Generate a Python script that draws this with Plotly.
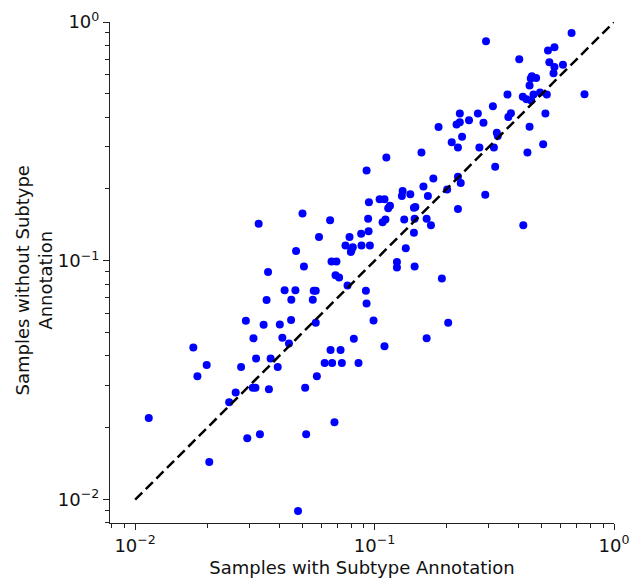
import plotly.graph_objects as go

# Fraction of samples with subtype annotation (x) vs without (y)
with_subtype = [
    0.665, 0.292, 0.564, 0.530, 0.402, 0.537, 0.612, 0.564, 0.559, 0.454,
    0.473, 0.449, 0.444, 0.359, 0.416, 0.461, 0.491, 0.524, 0.431, 0.451,
    0.753, 0.312, 0.227, 0.270, 0.371, 0.362, 0.517, 0.248, 0.220, 0.227,
    0.285, 0.444, 0.324, 0.327, 0.232, 0.210, 0.223, 0.274, 0.315, 0.506,
    0.435, 0.319, 0.223, 0.229, 0.185, 0.157, 0.112, 0.0926, 0.176, 0.160,
    0.131, 0.141, 0.130, 0.167, 0.201, 0.0947, 0.105, 0.110, 0.148, 0.146,
    0.116, 0.114, 0.0500, 0.0652, 0.0940, 0.111, 0.108, 0.133, 0.147, 0.165,
    0.172, 0.146, 0.0944, 0.0879, 0.0586, 0.0786, 0.0756, 0.0811, 0.0801, 0.0796,
    0.0882, 0.0956, 0.0470, 0.135, 0.0661, 0.0693, 0.124, 0.124, 0.147, 0.0507,
    0.0687, 0.0711, 0.191, 0.0771, 0.0421, 0.0467, 0.0557, 0.0568, 0.0920, 0.0449,
    0.0552, 0.0926, 0.0448, 0.0568, 0.0990, 0.203, 0.0402, 0.0412, 0.0819, 0.165,
    0.0439, 0.110, 0.0655, 0.0721, 0.290, 0.223, 0.418, 0.0328, 0.0359, 0.0354,
    0.0290, 0.0344, 0.0312, 0.0175, 0.0320, 0.0368, 0.0394, 0.0199, 0.0182, 0.0277,
    0.0263, 0.0247, 0.0310, 0.0318, 0.0362, 0.0114, 0.0294, 0.0332, 0.0204, 0.0619,
    0.0665, 0.0730, 0.0857, 0.0574, 0.0513, 0.0680, 0.0518, 0.0479,
]
without_subtype = [
    0.899, 0.830, 0.784, 0.759, 0.698, 0.678, 0.663, 0.648, 0.610, 0.593,
    0.583, 0.580, 0.542, 0.497, 0.487, 0.497, 0.507, 0.497, 0.475, 0.469,
    0.498, 0.444, 0.414, 0.414, 0.415, 0.400, 0.414, 0.388, 0.372, 0.380,
    0.379, 0.364, 0.344, 0.333, 0.331, 0.314, 0.298, 0.298, 0.298, 0.308,
    0.284, 0.248, 0.225, 0.212, 0.363, 0.284, 0.271, 0.239, 0.221, 0.205,
    0.196, 0.190, 0.187, 0.187, 0.199, 0.176, 0.181, 0.181, 0.168, 0.167,
    0.170, 0.166, 0.158, 0.148, 0.150, 0.149, 0.145, 0.149, 0.150, 0.150,
    0.141, 0.131, 0.133, 0.130, 0.126, 0.126, 0.116, 0.114, 0.111, 0.109,
    0.116, 0.116, 0.110, 0.113, 0.0994, 0.0994, 0.0990, 0.0938, 0.0947, 0.0947,
    0.0871, 0.0852, 0.0844, 0.0789, 0.0754, 0.0754, 0.0749, 0.0749, 0.0749, 0.0687,
    0.0687, 0.0663, 0.0566, 0.0550, 0.0563, 0.0550, 0.0542, 0.0476, 0.0472, 0.0474,
    0.0451, 0.0439, 0.0423, 0.0423, 0.189, 0.165, 0.141, 0.143, 0.0899, 0.0685,
    0.0561, 0.0540, 0.0474, 0.0434, 0.0390, 0.0390, 0.0359, 0.0366, 0.0329, 0.0359,
    0.0281, 0.0256, 0.0294, 0.0294, 0.0290, 0.0220, 0.0181, 0.0188, 0.0144, 0.0374,
    0.0374, 0.0374, 0.0374, 0.0329, 0.0294, 0.0211, 0.0188, 0.00897,
]

diagonal = [0.01, 1.0]

major_ticks = [0.01, 0.1, 1.0]
major_labels = ["10<sup>\u22122</sup>", "10<sup>\u22121</sup>", "10<sup>0</sup>"]
minor_ticks = [m * d for d in (0.001, 0.01, 0.1) for m in range(2, 10)]

x_title = "Samples with Subtype Annotation"
y_title = "Samples without Subtype<br>Annotation"

FONT = "DejaVu Sans"

fig = go.Figure()
fig.add_trace(go.Scatter(
    x=with_subtype, y=without_subtype, mode="markers",
    marker=dict(color="#0000ff", size=8, line=dict(width=0)),
    showlegend=False, hoverinfo="x+y",
))
fig.add_trace(go.Scatter(
    x=diagonal, y=diagonal, mode="lines",
    line=dict(color="black", width=2.5, dash="10px,5px"),
    showlegend=False, hoverinfo="skip",
))

axis_common = dict(
    type="log", automargin=False,
    showgrid=False, zeroline=False,
    showline=True, linecolor="#222222", linewidth=1.2,
    ticks="outside", ticklen=6, tickwidth=1.2, tickcolor="#222222",
    tickmode="array", tickvals=major_ticks, ticktext=major_labels,
    minor=dict(ticks="outside", ticklen=3.5, tickwidth=1, tickcolor="#222222",
               tickmode="array", tickvals=minor_ticks, showgrid=False),
    tickfont=dict(family=FONT, size=18, color="#111111"),
)

fig.update_layout(
    width=632, height=578,
    margin=dict(l=110, r=18, t=22, b=55),
    paper_bgcolor="white", plot_bgcolor="white",
    font=dict(family=FONT, size=18, color="#111111"),
    xaxis=dict(axis_common, range=[-2.105, 0.0],
               title=dict(text=x_title, font=dict(family=FONT, size=18), standoff=6)),
    yaxis=dict(axis_common, range=[-2.0975, 0.0]),
    annotations=[dict(
        text=y_title, textangle=-90, showarrow=False,
        xref="paper", yref="paper", x=0, y=0.5,
        xanchor="center", yanchor="middle", xshift=-77, yshift=-8,
        font=dict(family=FONT, size=18, color="#111111"),
    )],
)

# Remove the page's default body margin so the figure fills the window exactly,
# and hide the interactive mode bar.
fig.write_html(
    "out.html",
    config={"displayModeBar": False},
    post_script="document.body.style.margin='0';document.body.style.overflow='hidden';",
)
